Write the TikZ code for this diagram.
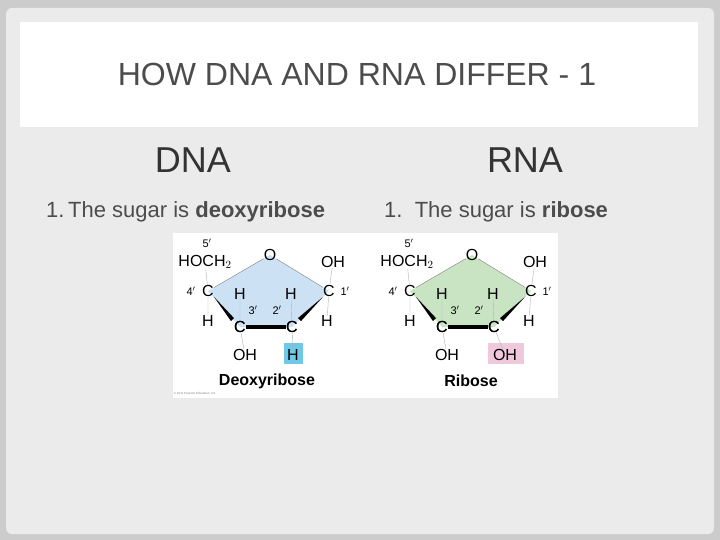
\documentclass[tikz,border=0pt]{standalone}
\usepackage{fontspec}
\setmainfont{Liberation Sans}
\definecolor{dfill}{RGB}{205,225,245}
\definecolor{rfill}{RGB}{200,228,195}
\definecolor{hbox}{RGB}{110,200,230}
\definecolor{ohbox}{RGB}{240,200,220}
\begin{document}
\begin{tikzpicture}[x=1pt,y=-1pt,
  atm/.style={inner sep=0pt,font=\fontsize{16}{16}\selectfont},
  sm/.style={inner sep=0pt,font=\fontsize{11}{11}\selectfont}]
\useasboundingbox (0,0) rectangle (720,540);
\fill[gray!40] (0,0) rectangle (720,540);
\fill[rounded corners=6pt,gray!16] (6,8) rectangle (714,534);
\fill[white] (20,22) rectangle (698,127);
\node (title) at (357,74) {\fontsize{32}{32}\selectfont\color{black!70}HOW DNA AND RNA DIFFER - 1};
\node (dna) at (193,160) {\fontsize{36}{36}\selectfont\color{black!80}DNA};
\node (rna) at (525,160) {\fontsize{36}{36}\selectfont\color{black!80}RNA};
\node[anchor=west,inner sep=0pt] (l1) at (46,212) {\fontsize{22}{22}\selectfont\color{black!70}1.\,The sugar is \textbf{deoxyribose}};
\node[anchor=west,inner sep=0pt] (r1) at (384,212) {\fontsize{22}{22}\selectfont\color{black!70}1.\ \ The sugar is \textbf{ribose}};
\fill[white] (173,233) rectangle (558,398);
\foreach \dx/\col/\nm/\sub/\hc in {0/dfill/Deoxyribose/H/hbox, 202/rfill/Ribose/OH/ohbox}{
 \begin{scope}[xshift=\dx]
  \fill[\col] (270,255) -- (329,291) -- (292,327) -- (240,327) -- (208,291) -- cycle;
  \fill[\hc] (\ifnum\dx=0 284\else 286\fi,343) rectangle (\ifnum\dx=0 303\else 322\fi,364);
  \node[atm] (O) at (270,255) {O};
  \node[atm] (C4) at (208,291) {C};
  \node[atm] (C1) at (329,291) {C};
  \node[atm] (C3) at (240,327) {C};
  \node[atm] (C2) at (292,327) {C};
  \node[atm] (HO) at (205,262) {HOCH$_2$};
  \node[sm] (p5) at (207,243) {5$'$};
  \node[atm] (OH1) at (333,262) {OH};
  \node[sm] (p4) at (191,291) {4$'$};
  \node[sm] (p1) at (345,291) {1$'$};
  \node[atm] (H4) at (208,321) {H};
  \node[atm] (H1) at (327,321) {H};
  \node[atm] (H3) at (240,294) {H};
  \node[atm] (H2) at (291,294) {H};
  \node[sm] (p3) at (253,310) {3$'$};
  \node[sm] (p2) at (277,310) {2$'$};
  \node[atm] (OH3) at (245,355) {OH};
  \node[atm] (X2) at (\ifnum\dx=0 293\else 303\fi,355) {\sub};
  \node[font=\bfseries\fontsize{16}{16}\selectfont] (lab) at (\ifnum\dx=0 267\else 269\fi,381) {\nm};
  \draw[gray,thin] (O) -- (C4) (O) -- (C1);
  \fill (C4.south east) -- ([xshift=-3pt]C3.north west) -- ([yshift=3pt]C3.north west) -- cycle;
  \fill (C1.south west) -- ([xshift=3pt]C2.north east) -- ([yshift=3pt]C2.north east) -- cycle;
  \draw[line width=3.5pt] (C3) -- (C2);
  \draw[gray!60,thin] (C4) -- (H4) (C1) -- (H1) (C3) -- (H3) (C2) -- (H2) (C3) -- (OH3) (C2) -- (X2) (C4) -- (HO) (C1) -- (OH1);
  \node[atm] at (240,327) {C};
  \node[atm] at (292,327) {C};
 \end{scope}}
\node[font=\fontsize{3}{3}\selectfont,gray] (cp) at (195,394) {© 2011 Pearson Education, Inc.};
\end{tikzpicture}
\end{document}
